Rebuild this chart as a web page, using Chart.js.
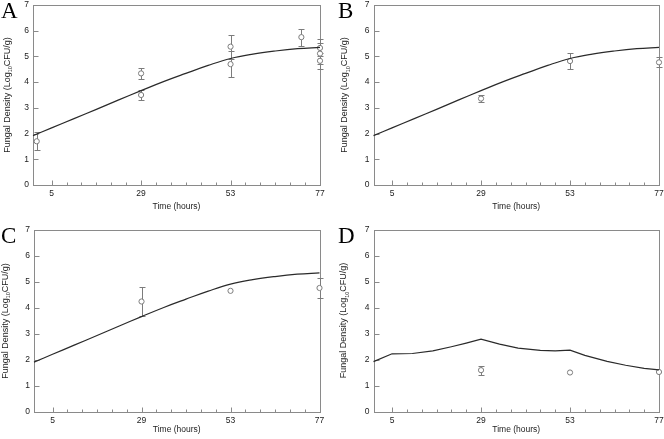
<!DOCTYPE html>
<html>
<head>
<meta charset="utf-8">
<script src="https://cdn.jsdelivr.net/npm/chart.js@4.4.0/dist/chart.umd.min.js"></script>
<style>
  html, body { margin: 0; padding: 0; background: #fff; }
  #wrap { position: relative; width: 664px; height: 439px; overflow: hidden; }
  canvas { position: absolute; }
</style>
</head>
<body>
<div id="wrap">
  <canvas id="panelA" style="left:0;top:0" width="332" height="220"></canvas>
  <canvas id="panelB" style="left:332px;top:0" width="332" height="220"></canvas>
  <canvas id="panelC" style="left:0;top:220px" width="332" height="219"></canvas>
  <canvas id="panelD" style="left:332px;top:220px" width="332" height="219"></canvas>
</div>
<script>
// axis ticks
const xLabelHours = [5, 29, 53, 77];
const xMinorHours = [5, 9, 13, 17, 21, 25, 29, 33, 37, 41, 45, 49, 53, 57, 61, 65, 69, 73, 77];
const yTickValues = [0, 1, 2, 3, 4, 5, 6, 7];

// model curve shared by A, B and C
const curveHours = [0, 5, 11, 17, 23, 29, 35, 41, 47, 53, 59, 65, 71, 77];
const curveABC = [1.92, 2.22, 2.58, 2.94, 3.31, 3.67, 4.02, 4.34, 4.65, 4.92, 5.09, 5.21, 5.30, 5.35];

// model curve for D
const curveDHours = [0, 5, 10.5, 16, 21, 25, 29, 34, 39, 45, 49, 53, 57, 63, 68, 73, 77];
const curveD = [1.92, 2.22, 2.23, 2.33, 2.49, 2.63, 2.78, 2.59, 2.44, 2.35, 2.33, 2.36, 2.16, 1.93, 1.78, 1.66, 1.60];

// observed data (mean +/- error)
const hoursA = [1, 29, 29, 53, 53, 72, 77, 77, 77];
const meanA = [1.70, 4.34, 3.50, 5.38, 4.70, 5.75, 5.33, 5.11, 4.83];
const errA = [0.35, 0.20, 0.20, 0.47, 0.51, 0.33, 0.33, 0.41, 0.32];

const hoursB = [29, 53, 77];
const meanB = [3.36, 4.82, 4.77];
const errB = [0.15, 0.30, 0.20];

const hoursC = [29, 53, 77];
const meanC = [4.25, 4.66, 4.77];
const errC = [0.57, 0, 0.40];

const hoursD = [29, 53, 77];
const meanD = [1.59, 1.50, 1.52];
const errD = [0.17, 0, 0];

const AXIS = '#8a8a8a';
const MARK = '#7c7c7c';
const TEXT = '#222';
const SANS = "'Liberation Sans', Arial, sans-serif";

/**
 * Bordure, graduations internes, barres d'erreur et textes
 */
const panelDecor = {
    id: 'panelDecor',
    beforeDatasetsDraw(chart, args, opts) {
        const { ctx, chartArea: a, scales: { x, y } } = chart;
        ctx.save();
        ctx.strokeStyle = AXIS;
        ctx.lineWidth = 1;
        const L = Math.round(a.left) + 0.5, R = Math.round(a.right) + 0.5;
        const T = Math.round(a.top) + 0.5, B = Math.round(a.bottom) + 0.5;
        ctx.strokeRect(L, T, R - L, B - T);

        ctx.beginPath();
        xMinorHours.forEach(h => {
            const px = Math.round(x.getPixelForValue(h)) + 0.5;
            const len = xLabelHours.includes(h) ? 5 : 3;
            ctx.moveTo(px, B);
            ctx.lineTo(px, B - len);
        });
        yTickValues.forEach(v => {
            const py = Math.round(y.getPixelForValue(v)) + 0.5;
            ctx.moveTo(L, py);
            ctx.lineTo(L + 5, py);
        });
        ctx.stroke();

        // barres d'erreur
        const ds = chart.data.datasets[1];
        ctx.strokeStyle = MARK;
        ctx.beginPath();
        ds.data.forEach((p, i) => {
            const e = ds.errors[i];
            if (!e) return;
            const px = Math.round(x.getPixelForValue(p.x)) + 0.5;
            const top = Math.round(y.getPixelForValue(p.y + e)) + 0.5;
            const bot = Math.round(y.getPixelForValue(p.y - e)) + 0.5;
            ctx.moveTo(px, top); ctx.lineTo(px, bot);
            ctx.moveTo(px - 3, top); ctx.lineTo(px + 3, top);
            ctx.moveTo(px - 3, bot); ctx.lineTo(px + 3, bot);
        });
        ctx.stroke();
        ctx.restore();
    },
    afterDraw(chart, args, opts) {
        const { ctx, chartArea: a } = chart;
        ctx.save();
        ctx.fillStyle = '#000';
        ctx.font = "23px 'Liberation Serif', 'Times New Roman', serif";
        ctx.textBaseline = 'alphabetic';
        ctx.textAlign = 'left';
        ctx.fillText(opts.letter, opts.letterX, opts.letterY);

        ctx.fillStyle = TEXT;
        ctx.font = '8.5px ' + SANS;
        ctx.textAlign = 'center';
        ctx.textBaseline = 'middle';
        ctx.fillText('Time (hours)', (a.left + a.right) / 2, a.bottom + opts.xTitleGap);

        // titre vertical avec indice 10
        const p1 = 'Fungal Density (Log', sub = '10', p2 = 'CFU/g)';
        const big = '9px ' + SANS, small = '5.5px ' + SANS;
        ctx.font = big;
        const w1 = ctx.measureText(p1).width, w3 = ctx.measureText(p2).width;
        ctx.font = small;
        const w2 = ctx.measureText(sub).width;
        const total = w1 + w2 + w3;
        ctx.translate(opts.yTitleX, (a.top + a.bottom) / 2);
        ctx.rotate(-Math.PI / 2);
        ctx.textAlign = 'left';
        ctx.textBaseline = 'middle';
        let cx = -total / 2;
        ctx.font = big;
        ctx.fillText(p1, cx, 0);
        cx += w1;
        ctx.font = small;
        ctx.fillText(sub, cx, 3);
        cx += w2;
        ctx.font = big;
        ctx.fillText(p2, cx, 0);
        ctx.restore();
    }
};

function makePanel(id, curveX, curveY, ptX, ptY, ptErr, area, deco) {
    const canvas = document.getElementById(id);
    const H = canvas.height;
    return new Chart(canvas, {
        type: 'scatter',
        data: {
            datasets: [{
                type: 'line',
                data: curveX.map((h, i) => ({ x: h, y: curveY[i] })),
                borderColor: '#2a2a2a',
                borderWidth: 1.2,
                pointRadius: 0,
                fill: false,
                tension: deco.smooth ? 0.4 : 0,
                clip: false
            }, {
                data: ptX.map((h, i) => ({ x: h, y: ptY[i] })),
                errors: ptErr,
                pointStyle: 'circle',
                pointRadius: 2.6,
                borderWidth: 1,
                borderColor: MARK,
                backgroundColor: '#fff',
                clip: false
            }]
        },
        options: {
            responsive: false,
            animation: false,
            devicePixelRatio: 1,
            layout: { padding: { left: 0, top: area.top, right: canvas.width - area.right, bottom: 0 } },
            plugins: {
                legend: { display: false },
                tooltip: { enabled: false },
                panelDecor: deco
            },
            scales: {
                x: {
                    type: 'linear',
                    min: 0,
                    max: 77,
                    grid: { display: false, drawTicks: false },
                    border: { display: false },
                    afterBuildTicks: s => { s.ticks = xMinorHours.map(v => ({ value: v })); },
                    ticks: {
                        autoSkip: false,
                        maxRotation: 0,
                        padding: 4,
                        color: TEXT,
                        font: { family: SANS, size: 8.5 },
                        callback: v => xLabelHours.includes(v) ? String(v) : ''
                    },
                    afterFit: s => { s.height = H - area.bottom; s.paddingLeft = 0; s.paddingRight = 0; }
                },
                y: {
                    min: 0,
                    max: 7,
                    grid: { display: false, drawTicks: false },
                    border: { display: false },
                    ticks: {
                        stepSize: 1,
                        padding: 4,
                        color: TEXT,
                        font: { family: SANS, size: 8.5 }
                    },
                    afterFit: s => { s.width = area.left; s.paddingTop = 0; s.paddingBottom = 0; }
                }
            }
        },
        plugins: [panelDecor]
    });
}

makePanel('panelA', curveHours, curveABC, hoursA, meanA, errA,
    { left: 33, right: 320, top: 2, bottom: 185 },
    { letter: 'A', letterX: 1, letterY: 18, yTitleX: 7.5, xTitleGap: 22, smooth: true });
makePanel('panelB', curveHours, curveABC, hoursB, meanB, errB,
    { left: 41.5, right: 327.5, top: 2, bottom: 185 },
    { letter: 'B', letterX: 6, letterY: 18, yTitleX: 13, xTitleGap: 22, smooth: true });
makePanel('panelC', curveHours, curveABC, hoursC, meanC, errC,
    { left: 34, right: 319.5, top: 10, bottom: 192 },
    { letter: 'C', letterX: 1, letterY: 22.5, yTitleX: 5.5, xTitleGap: 18, smooth: true });
makePanel('panelD', curveDHours, curveD, hoursD, meanD, errD,
    { left: 41.5, right: 327, top: 9.5, bottom: 191.5 },
    { letter: 'D', letterX: 6, letterY: 22.5, yTitleX: 12, xTitleGap: 18, smooth: false });
</script>
</body>
</html>
